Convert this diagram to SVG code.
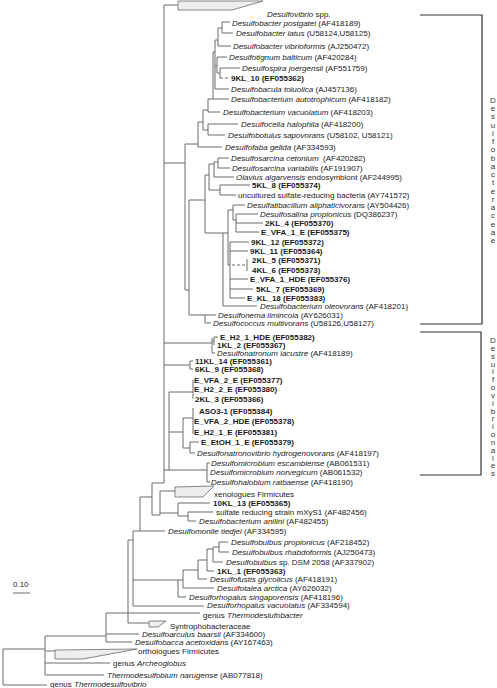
<svg xmlns="http://www.w3.org/2000/svg" width="497" height="688" viewBox="0 0 497 688">
<style>
.e{stroke:#6b6b6b;stroke-width:1;fill:none}
.d{stroke:#6b6b6b;stroke-width:1;fill:none;stroke-dasharray:3 2}
.br{stroke:#333;stroke-width:1.2;fill:none}
.tri{fill:#ededed;stroke:#6b6b6b;stroke-width:0.8}
text{font-family:"Liberation Sans",Arial,sans-serif;font-size:8px;fill:#1a1a1a}
.i{font-style:italic}
.b{font-weight:bold}
.v{fill:#333;text-anchor:middle}
</style>
<rect width="497" height="688" fill="#fff"/>
<g id="connectors">
<path class="e" d="M3 649V685M3 649H45M3 685H47M45 636V675M45 636H106M45 651H55M45 663H110M45 675H104
M106 613V642M106 613H128M106 634H139M106 642H132
M128 540V623M128 613H200M128 623H149M128 540H133
M133 531V606M133 531H165M133 580H178M133 606H204
M178 580V597M178 580H183M178 597H186
M183 570V588M183 570H198M183 588H214
M198 560V579M198 560H207M198 579H207
M207 549V571M207 549H213M207 571H214
M213 547V562M213 547H219M213 562H223
M219 542V552M219 542H228M219 552H229
M140 497V531M140 497H152
M152 483V515M152 483H164M152 515H160
M164 470H207
M207 463V482M207 463H210M207 482H210
M169 392V470M169 392H193M169 432H183
M193 380V399
M183 418V448M183 418H193M183 448H190
M193 408V434
M190 442V453M190 442H199M190 453H195
M160 491V515M160 491H175M160 513H178
M178 503V516M178 503H210M178 516H188
M188 512V521M188 512H213M188 521H196
M164 5V483M164 5H178M164 163H185M164 343H212M164 365H190
M185 144V290M185 144H198M185 290H189
M198 122V147M198 122H203M198 147H222
M203 110V130M203 110H208M203 130H208
M208 124V135M208 124H238M208 135H225
M208 99V112M208 99H229M208 112H220
M213 52V99M213 52H215
M215 40V89M215 40H218M215 66H217M215 89H229
M218 28V46M218 28H222M218 46H231
M222 22V33M222 22H230M222 33H233
M217 57V73M217 57H227M217 73H220
M220 68V78M220 68H240
M189 200V315M189 200H205M189 315H216
M205 315V323M205 323H211
M205 175V233M205 175H209M205 233H228
M209 164V190M209 164H214M209 190H220
M214 162V177M214 162H218M214 177H234
M218 158V168M218 158H229M218 168H230
M220 185V195M220 185H250M220 195H236
M228 210V265M228 210H233M228 265H230
M223 233V306M223 306H257
M233 205V220M233 205H245M233 220H236
M236 214V232M236 214H258M236 223H263M236 232H259
M230 242V298M230 242H249M230 251H248M230 279H248M230 289H253M230 298H245
M247 259V271
M212 338V353M212 341H214M212 353H215
M214 337V345M214 337H218
M190 361V369M190 361H193M190 369H193"/>
<path class="d" d="M220 78H229M232 265H247"/>
<polygon class="tri" points="178,1 263,1 232,10 178,10"/>
<polygon class="tri" points="175,487 214,486 203,497 175,497"/>
<polygon class="tri" points="149,621 166,621 158,627 149,627"/>
<polygon class="tri" points="55,650 137,649 83,659 55,659"/>
<path class="br" d="M420 15H482V324H420M420 332H481V475H420"/>
<path class="e" d="M13 593H30"/>
</g>
<g id="scale"><text x="13" y="587">0.10</text></g>
<g id="n1"><text x="267" y="16.5"><tspan class="i">Desulfovibrio</tspan> spp.</text></g>
<g id="n2"><text x="232" y="25.5"><tspan class="i">Desulfobacter postgatei</tspan> (AF418189)</text></g>
<g id="n3"><text x="236" y="36"><tspan class="i">Desulfobacter latus</tspan> (U58124,U58125)</text></g>
<g id="n4"><text x="233" y="49"><tspan class="i">Desulfobacter vibrioformis</tspan> (AJ250472)</text></g>
<g id="n5"><text x="229" y="60"><tspan class="i">Desulfotignum balticum</tspan> (AF420284)</text></g>
<g id="n6"><text x="242" y="71"><tspan class="i">Desulfospira joergensii</tspan> (AF551759)</text></g>
<g id="n7"><text class="b" x="231" y="81">9KL_10 (EF055362)</text></g>
<g id="n8"><text x="231" y="92"><tspan class="i">Desulfobacula toluolica</tspan> (AJ457136)</text></g>
<g id="n9"><text x="231" y="102"><tspan class="i">Desulfobacterium autotrophicum</tspan> (AF418182)</text></g>
<g id="n10"><text x="223" y="115"><tspan class="i">Desulfobacterium vacuolatum</tspan> (AF418203)</text></g>
<g id="n11"><text x="241" y="127"><tspan class="i">Desulfocella halophila</tspan> (AF418200)</text></g>
<g id="n12"><text x="228" y="138"><tspan class="i">Desulfobotulus sapovorans</tspan> (U58102, U58121)</text></g>
<g id="n13"><text x="225" y="150"><tspan class="i">Desulfofaba gelida</tspan> (AF334593)</text></g>
<g id="n14"><text x="231" y="161"><tspan class="i">Desulfosarcina cetonium</tspan>&#160; (AF420282)</text></g>
<g id="n15"><text x="232" y="171"><tspan class="i">Desulfosarcina variabilis</tspan> (AF191907)</text></g>
<g id="n16"><text x="236" y="180"><tspan class="i">Olavius algarvensis</tspan> endosymbiont (AF244995)</text></g>
<g id="n17"><text class="b" x="252" y="188">5KL_8 (EF055374)</text></g>
<g id="n18"><text x="238" y="198">uncultured sulfate-reducing bacteria (AY741572)</text></g>
<g id="n19"><text x="247" y="208"><tspan class="i">Desulfatibacillum aliphaticivorans</tspan> (AY504426)</text></g>
<g id="n20"><text x="260" y="217"><tspan class="i">Desulfosalina propionicus</tspan> (DQ386237)</text></g>
<g id="n21"><text class="b" x="265" y="226">2KL_4 (EF055370)</text></g>
<g id="n22"><text class="b" x="261" y="235">E_VFA_1_E (EF055375)</text></g>
<g id="n23"><text class="b" x="251" y="245">9KL_12 (EF055372)</text></g>
<g id="n24"><text class="b" x="250" y="254">9KL_11 (EF055364)</text></g>
<g id="n25"><text class="b" x="252" y="263">2KL_5 (EF055371)</text></g>
<g id="n26"><text class="b" x="252" y="273">4KL_6 (EF055373)</text></g>
<g id="n27"><text class="b" x="250" y="282">E_VFA_1_HDE (EF055376)</text></g>
<g id="n28"><text class="b" x="256" y="292">5KL_7 (EF055369)</text></g>
<g id="n29"><text class="b" x="247" y="301">E_KL_18 (EF055383)</text></g>
<g id="n30"><text x="260" y="309"><tspan class="i">Desulfobacterium oleovorans</tspan> (AF418201)</text></g>
<g id="n31"><text x="218" y="318"><tspan class="i">Desulfonema limincola</tspan> (AY626031)</text></g>
<g id="n32"><text x="213" y="326"><tspan class="i">Desulfococcus multivorans</tspan> (U58126,U58127)</text></g>
<g id="n33"><text class="b" x="220" y="340">E_H2_1_HDE (EF055382)</text></g>
<g id="n34"><text class="b" x="217" y="348">1KL_2 (EF055367)</text></g>
<g id="n35"><text x="217" y="356"><tspan class="i">Desulfonatronum lacustre</tspan> (AF418189)</text></g>
<g id="n36"><text class="b" x="195" y="364">11KL_14 (EF055361)</text></g>
<g id="n37"><text class="b" x="195" y="372">6KL_9 (EF055368)</text></g>
<g id="n38"><text class="b" x="194" y="383">E_VFA_2_E (EF055377)</text></g>
<g id="n39"><text class="b" x="194" y="392">E_H2_2_E (EF055380)</text></g>
<g id="n40"><text class="b" x="195" y="402">2KL_3 (EF055366)</text></g>
<g id="n41"><text class="b" x="199" y="414">ASO3-1 (EF055384)</text></g>
<g id="n42"><text class="b" x="194" y="424">E_VFA_2_HDE (EF055378)</text></g>
<g id="n43"><text class="b" x="194" y="435">E_H2_1_E (EF055381)</text></g>
<g id="n44"><text class="b" x="201" y="445">E_EtOH_1_E (EF055379)</text></g>
<g id="n45"><text x="197" y="456"><tspan class="i">Desulfonatronovibrio hydrogenovorans</tspan> (AF418197)</text></g>
<g id="n46"><text x="211" y="466"><tspan class="i">Desulfomicrobium escambiense</tspan> (AB061531)</text></g>
<g id="n47"><text x="210" y="475"><tspan class="i">Desulfomicrobium norvegicum</tspan> (AB061532)</text></g>
<g id="n48"><text x="211" y="485"><tspan class="i">Desulfohalobium ratbaense</tspan> (AF418190)</text></g>
<g id="n49"><text x="214" y="497">xenologues Firmicutes</text></g>
<g id="n50"><text class="b" x="213" y="506">10KL_13 (EF055365)</text></g>
<g id="n51"><text x="216" y="515">sulfate reducing strain mXyS1 (AF482456)</text></g>
<g id="n52"><text x="199" y="524"><tspan class="i">Desulfobacterium anilini</tspan> (AF482455)</text></g>
<g id="n53"><text x="168" y="534"><tspan class="i">Desulfomonile tiedjei</tspan> (AF334595)</text></g>
<g id="n54"><text x="231" y="545"><tspan class="i">Desulfobulbus propionicus</tspan> (AF218452)</text></g>
<g id="n55"><text x="232" y="555"><tspan class="i">Desulfobulbus rhabdoformis</tspan> (AJ250473)</text></g>
<g id="n56"><text x="226" y="565"><tspan class="i">Desulfobulbus</tspan> sp. DSM 2058 (AF337902)</text></g>
<g id="n57"><text class="b" x="217" y="574">1KL_1 (EF055363)</text></g>
<g id="n58"><text x="210" y="582"><tspan class="i">Desulfofustis glycolicus</tspan> (AF418191)</text></g>
<g id="n59"><text x="217" y="591"><tspan class="i">Desulfotalea arctica</tspan> (AY626032)</text></g>
<g id="n60"><text x="189" y="600"><tspan class="i">Desulforhopalus singaporensis</tspan> (AF418196)</text></g>
<g id="n61"><text x="207" y="608"><tspan class="i">Desulforhopalus vacuolatus</tspan> (AF334594)</text></g>
<g id="n62"><text x="203" y="617.5">genus <tspan class="i">Thermodeslufobacter</tspan></text></g>
<g id="n63"><text x="170" y="629">Syntrophobacteraceae</text></g>
<g id="n64"><text x="142" y="637"><tspan class="i">Desulfoarculus baarsii</tspan> (AF334600)</text></g>
<g id="n65"><text x="135" y="645"><tspan class="i">Desulfobacca acetoxidans</tspan> (AY167463)</text></g>
<g id="n66"><text x="138" y="654">orthologues Firmicutes</text></g>
<g id="n67"><text x="113" y="666">genus <tspan class="i">Archeoglobus</tspan></text></g>
<g id="n68"><text x="107" y="678"><tspan class="i">Thermodesulfobium narugense</tspan> (AB077818)</text></g>
<g id="n69"><text x="50" y="687">genus <tspan class="i">Thermodesulfovibrio</tspan></text></g>
<g id="desulfobacteraceae"><text class="v" x="493"><tspan x="493" y="103">D</tspan><tspan x="493" dy="8.24">e</tspan><tspan x="493" dy="8.24">s</tspan><tspan x="493" dy="8.24">u</tspan><tspan x="493" dy="8.24">l</tspan><tspan x="493" dy="8.24">f</tspan><tspan x="493" dy="8.24">o</tspan><tspan x="493" dy="8.24">b</tspan><tspan x="493" dy="8.24">a</tspan><tspan x="493" dy="8.24">c</tspan><tspan x="493" dy="8.24">t</tspan><tspan x="493" dy="8.24">e</tspan><tspan x="493" dy="8.24">r</tspan><tspan x="493" dy="8.24">a</tspan><tspan x="493" dy="8.24">c</tspan><tspan x="493" dy="8.24">e</tspan><tspan x="493" dy="8.24">a</tspan><tspan x="493" dy="8.24">e</tspan></text></g>
<g id="desulfovibrionales"><text class="v" x="493"><tspan x="493" y="343">D</tspan><tspan x="493" dy="7.84">e</tspan><tspan x="493" dy="7.84">s</tspan><tspan x="493" dy="7.84">u</tspan><tspan x="493" dy="7.84">l</tspan><tspan x="493" dy="7.84">f</tspan><tspan x="493" dy="7.84">o</tspan><tspan x="493" dy="7.84">v</tspan><tspan x="493" dy="7.84">i</tspan><tspan x="493" dy="7.84">b</tspan><tspan x="493" dy="7.84">r</tspan><tspan x="493" dy="7.84">i</tspan><tspan x="493" dy="7.84">o</tspan><tspan x="493" dy="7.84">n</tspan><tspan x="493" dy="7.84">a</tspan><tspan x="493" dy="7.84">l</tspan><tspan x="493" dy="7.84">e</tspan><tspan x="493" dy="7.84">s</tspan></text></g>
</svg>
